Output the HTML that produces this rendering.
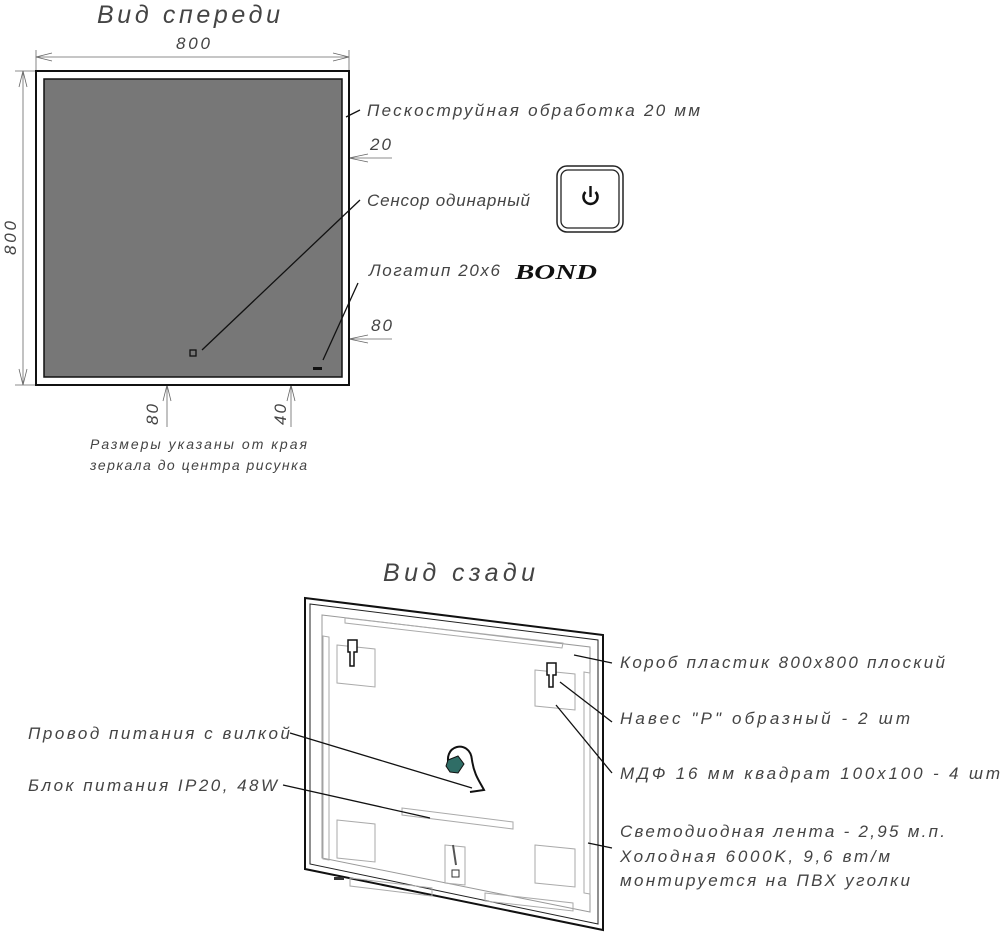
<!DOCTYPE html>
<html><head><meta charset="utf-8"><style>
html,body{margin:0;padding:0;background:#fff;}
svg{display:block;}
text{font-family:"Liberation Sans",sans-serif;font-style:italic;fill:#444;}
</style></head><body>
<svg width="1000" height="934" viewBox="0 0 1000 934" xmlns="http://www.w3.org/2000/svg">
<!-- FRONT VIEW -->
<text x="97" y="23" font-size="25" textLength="183" lengthAdjust="spacing" fill="#555">Вид спереди</text>
<text x="176" y="49" font-size="17" textLength="34" lengthAdjust="spacing">800</text>
<g stroke="#666" stroke-width="0.8" fill="none">
<line x1="36" y1="50" x2="36" y2="70"/><line x1="349" y1="50" x2="349" y2="70"/>
<line x1="36" y1="57" x2="349" y2="57"/>
<polyline points="52,53 36,57 52,61"/><polyline points="333,53 349,57 333,61"/>
<line x1="15" y1="71" x2="35" y2="71"/><line x1="15" y1="385" x2="35" y2="385"/>
<line x1="23" y1="71" x2="23" y2="385"/>
<polyline points="19,87 23,71 27,87"/><polyline points="19,369 23,385 27,369"/>
<!-- 20 -->
<line x1="310" y1="158" x2="392" y2="158"/>
<polyline points="326,154 342,158 326,162"/><polyline points="368,154 349,158 368,162"/>
<!-- 80 right -->
<line x1="298" y1="339" x2="392" y2="339"/>
<line x1="318" y1="333" x2="318" y2="370"/>
<polyline points="302,335 318,339 302,343"/><polyline points="368,335 349,339 368,343"/>
<line x1="284" y1="369" x2="314" y2="369"/>
<line x1="291" y1="336" x2="291" y2="427"/>
<polyline points="287,353 291,369 295,353"/><polyline points="287,401 291,385 295,401"/>
<!-- 80 bottom -->
<line x1="160" y1="353" x2="192" y2="353"/>
<line x1="167" y1="322" x2="167" y2="427"/>
<polyline points="163,337 167,353 171,337"/><polyline points="163,401 167,385 171,401"/>
</g>
<text transform="translate(16,255) rotate(-90)" font-size="17" textLength="34" lengthAdjust="spacing">800</text>
<rect x="36" y="71" width="313" height="314" fill="#fff" stroke="#111" stroke-width="2"/>
<rect x="44" y="79" width="298" height="298" fill="#777" stroke="#111" stroke-width="1.5"/>
<rect x="190" y="350" width="6" height="6" fill="none" stroke="#111" stroke-width="1.3"/>
<rect x="313" y="367" width="9" height="3" fill="#111"/>
<g stroke="#111" stroke-width="1.3">
<line x1="346" y1="117" x2="360" y2="110"/>
<line x1="202" y1="350" x2="360" y2="200"/>
<line x1="323" y1="360" x2="358" y2="283"/>
</g>
<text x="367" y="116" font-size="17" textLength="333" lengthAdjust="spacing">Пескоструйная обработка 20 мм</text>
<text x="370" y="150" font-size="17" textLength="21" lengthAdjust="spacing">20</text>
<text x="367" y="206" font-size="17" textLength="163" lengthAdjust="spacing">Сенсор одинарный</text>
<text x="369" y="276" font-size="17" textLength="131" lengthAdjust="spacing">Логатип 20х6</text>
<text x="515" y="279" font-size="21" font-weight="bold" font-style="normal" style="font-family:'Liberation Serif',serif;fill:#111" textLength="82" lengthAdjust="spacingAndGlyphs">BOND</text>
<text x="371" y="331" font-size="17" textLength="21" lengthAdjust="spacing">80</text>
<text transform="translate(158,425) rotate(-90)" font-size="17" textLength="21" lengthAdjust="spacing">80</text>
<text transform="translate(286,425) rotate(-90)" font-size="17" textLength="21" lengthAdjust="spacing">40</text>
<text x="90" y="449" font-size="14" textLength="217" lengthAdjust="spacing">Размеры указаны от края</text>
<text x="90" y="470" font-size="14" textLength="217" lengthAdjust="spacing">зеркала до центра рисунка</text>
<!-- sensor button -->
<rect x="557" y="166" width="66" height="66" rx="10" fill="#fff" stroke="#222" stroke-width="1.5"/>
<rect x="561" y="170" width="58" height="58" rx="7" fill="none" stroke="#222" stroke-width="1.3"/>
<path d="M585.5,192 A7,7 0 1 0 595.5,192" fill="none" stroke="#111" stroke-width="2.6"/>
<line x1="590.5" y1="186" x2="590.5" y2="197" stroke="#111" stroke-width="2.4"/>

<!-- BACK VIEW -->
<text x="383" y="581" font-size="25" textLength="152" lengthAdjust="spacing" fill="#555">Вид сзади</text>
<polygon points="305,598 603,635 603,930 305,869" fill="#fff" stroke="#111" stroke-width="2"/>
<polygon points="310,604 598,640 598,924 310,864" fill="none" stroke="#222" stroke-width="1"/>
<polygon points="322,615 590,647 590,912 322,858" fill="none" stroke="#999" stroke-width="1"/>
<g stroke="#aaa" stroke-width="1" fill="none">
<polygon points="345,618 563,643 562,648 345,623"/>
<polygon points="323,636 329,637 329,860 323,859"/>
<polygon points="584,672 590,673 590,894 584,893"/>
<polygon points="337,645 375,649 375,687 337,683"/>
<polygon points="535,670 575,674 575,710 535,706"/>
<polygon points="337,820 375,824 375,862 337,858"/>
<polygon points="535,845 575,849 575,887 535,883"/>
<polygon points="402,808 513,822 513,829 402,815"/>
<polygon points="350,878 432,888 432,896 350,886"/>
<polygon points="485,893 573,903 573,911 485,901"/>
<polygon points="445,845 465,847 465,885 445,883"/>
</g>
<rect x="452" y="870" width="7" height="7" fill="none" stroke="#333" stroke-width="1"/>
<line x1="453" y1="845" x2="456" y2="865" stroke="#555" stroke-width="2"/>
<rect x="334" y="877" width="10" height="3" fill="#333"/>
<!-- hangers -->
<path d="M348,640 h9 v12 h-3 v14 h-4 v-14 h-2 z" fill="#fff" stroke="#111" stroke-width="1.5"/>
<path d="M547,663 h9 v12 h-3 v12 h-4 v-12 h-2 z" fill="#fff" stroke="#111" stroke-width="1.5"/>
<!-- cable -->
<path d="M450,768 C440,745 470,738 472,760 C474,775 480,782 484,790 L470,792" fill="none" stroke="#111" stroke-width="2"/>
<polygon points="448,760 458,756 464,764 458,773 450,772 446,766" fill="#2f6d66" stroke="#111" stroke-width="1"/>
<g stroke="#111" stroke-width="1.3">
<line x1="574" y1="655" x2="612" y2="663"/>
<line x1="560" y1="682" x2="612" y2="722"/>
<line x1="556" y1="705" x2="612" y2="773"/>
<line x1="588" y1="843" x2="612" y2="848"/>
<line x1="290" y1="733" x2="472" y2="788"/>
<line x1="283" y1="785" x2="430" y2="818"/>
</g>
<text x="620" y="668" font-size="17" textLength="325" lengthAdjust="spacing">Короб пластик 800х800 плоский</text>
<text x="620" y="724" font-size="17" textLength="290" lengthAdjust="spacing">Навес "Р" образный - 2 шт</text>
<text x="620" y="779" font-size="17" textLength="380" lengthAdjust="spacing">МДФ 16 мм квадрат 100х100 - 4 шт</text>
<text x="620" y="837" font-size="17" textLength="325" lengthAdjust="spacing">Светодиодная лента - 2,95 м.п.</text>
<text x="620" y="862" font-size="17" textLength="270" lengthAdjust="spacing">Холодная 6000K, 9,6 вт/м</text>
<text x="620" y="886" font-size="17" textLength="290" lengthAdjust="spacing">монтируется на ПВХ уголки</text>
<text x="28" y="739" font-size="17" textLength="262" lengthAdjust="spacing">Провод питания с вилкой</text>
<text x="28" y="791" font-size="17" textLength="249" lengthAdjust="spacing">Блок питания IP20, 48W</text>
</svg>
</body></html>
